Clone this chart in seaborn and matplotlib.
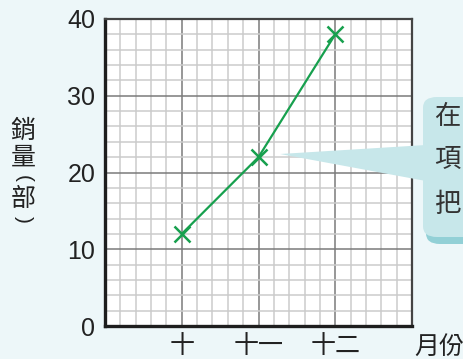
import matplotlib
matplotlib.use("Agg")
import matplotlib.pyplot as plt
import seaborn as sns
import pandas as pd
from matplotlib.ticker import MultipleLocator
from matplotlib.patches import FancyBboxPatch, Polygon

# ---- data ----
months = ["十", "十一", "十二"]
sales = [12, 22, 38]
yticks = [0, 10, 20, 30, 40]
ylabel_chars = ["銷", "量", "(", "部", ")"]
xlabel_text = "月份"
bubble_chars = ["在", "項", "把"]

sns.set_theme(style="white")
plt.rcParams["font.family"] = ["Noto Sans CJK TC", "DejaVu Sans"]

W, H = 464, 359
bg = "#edf7f9"
fig = plt.figure(figsize=(W / 100, H / 100), dpi=100, facecolor=bg)

def fx(px):
    return px / W

def fy(py):
    return 1 - py / H

ax = fig.add_axes([fx(105), fy(326), fx(412) - fx(105), fy(19) - fy(326)])
ax.set_facecolor("white")

green = "#17a04e"
df = pd.DataFrame({"month": months, "sales": sales})
sns.lineplot(data=df, x="month", y="sales", sort=False, ax=ax,
             color=green, linewidth=1.6, marker="x", markersize=12,
             markeredgewidth=1.8, markeredgecolor=green, zorder=5)

ax.set_xlim(-1, 3)
ax.set_ylim(0, 40)
ax.set_xticks(range(len(months)))
ax.set_xticklabels(months, fontsize=18, color="#222222")
ax.set_yticks(yticks)
ax.set_yticklabels([str(v) for v in yticks], fontsize=18,
                   family="Liberation Sans", color="#222222")
ax.xaxis.set_minor_locator(MultipleLocator(0.2))
ax.yaxis.set_minor_locator(MultipleLocator(2))
ax.grid(which="minor", color="#cbcbcb", linewidth=1.1, zorder=0)
ax.grid(which="major", color="#7a7a7a", linewidth=1.1, zorder=1)
ax.set_axisbelow(True)
ax.tick_params(axis="both", which="both", length=0)
ax.tick_params(axis="x", pad=5)
ax.tick_params(axis="y", pad=7)
ax.set_xlabel("")
ax.set_ylabel("")

for s in ["left", "bottom"]:
    ax.spines[s].set_color("#1e1e1e")
    ax.spines[s].set_linewidth(2.4)
for s in ["top", "right"]:
    ax.spines[s].set_color("#444444")
    ax.spines[s].set_linewidth(1.6)
    ax.spines[s].set_visible(True)

# y label, vertical stacked characters (parentheses turned for vertical text)
ypos = [131, 158, 178, 199, 219]
rots = [0, 0, -90, 0, -90]
for ch, py, r in zip(ylabel_chars, ypos, rots):
    fig.text(fx(23), fy(py), ch, ha="center", va="center",
             fontsize=15 if r else 18,
             rotation=r, rotation_mode="anchor", color="#222222",
             family="Liberation Sans" if r else None)

# x axis label
fig.text(fx(414), fy(347), xlabel_text, ha="left", va="center", fontsize=18,
         color="#222222")

# callout bubble
shadow = FancyBboxPatch((fx(426), fy(244)), fx(120), fy(102) - fy(244),
                        boxstyle="round,pad=0,rounding_size=0.03",
                        transform=fig.transFigure, facecolor="#92d0d6",
                        edgecolor="none", zorder=1)
bubble = FancyBboxPatch((fx(423), fy(237)), fx(120), fy(97) - fy(237),
                        boxstyle="round,pad=0,rounding_size=0.03",
                        transform=fig.transFigure, facecolor="#c7e7ea",
                        edgecolor="none", zorder=2)
pointer = Polygon([(fx(280), fy(154)), (fx(426), fy(145)), (fx(426), fy(181))],
                  closed=True, transform=fig.transFigure, facecolor="#c7e7ea",
                  edgecolor="none", zorder=2)
fig.patches.extend([shadow, bubble, pointer])
for ch, py in zip(bubble_chars, [117, 160, 205]):
    fig.text(fx(434), fy(py), ch, ha="left", va="center", fontsize=19,
             color="#333333", zorder=3)

fig.savefig("out.png", dpi=100, facecolor=bg)
